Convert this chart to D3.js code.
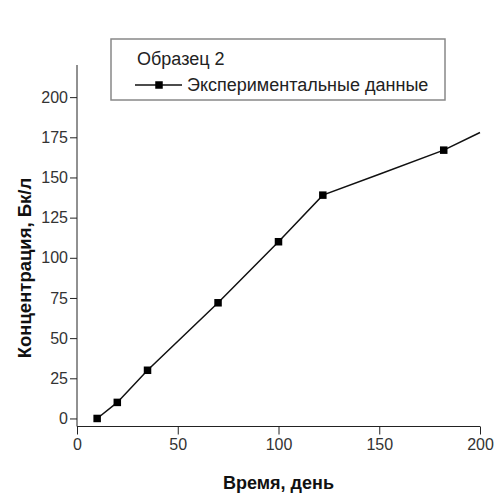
<!DOCTYPE html>
<html>
<head>
<meta charset="utf-8">
<script src="https://cdn.jsdelivr.net/npm/d3@7"></script>
<style>
  body { margin: 0; background: #fff; }
  svg { display: block; font-family: "Liberation Sans", Arial, sans-serif; }
</style>
</head>
<body>
<svg width="495" height="493"></svg>
<script>
// measured points (markers)
const days = [10, 20, 35, 70, 100, 122, 182];
const conc = [0, 10, 30, 72, 110, 139, 167];

// connecting curve, goes on past the last marker
const curveDays = [10, 20, 35, 70, 100, 122, 150, 182, 200];
const curveConc = [0, 10, 30, 72, 110, 139, 152, 167, 178];

const xTicks = [0, 50, 100, 150, 200];
const yTicks = [0, 25, 50, 75, 100, 125, 150, 175, 200];

const svg = d3.select('svg');

const x = d3.scaleLinear().domain([0, 200]).range([77, 480]);
const y = d3.scaleLinear().domain([-5, 220]).range([426.5, 65]);

// y axis: major + minor ticks
const yAxis = svg.append('g').attr('transform', 'translate(77,0)');
yAxis.call(d3.axisLeft(y).tickValues(d3.range(0, 220, 12.5)).tickSize(3.5).tickFormat(''))
    .call(g => g.select('.domain').remove());
yAxis.call(d3.axisLeft(y).tickValues(yTicks).tickSize(7).tickPadding(2));
yAxis.selectAll('text').style('font-size', '16px').attr('fill', '#333');
yAxis.selectAll('line').attr('stroke', '#222');
yAxis.select('.domain').attr('stroke', '#222').attr('d', `M0,${y(-5)}V${y(220)}`);

// x axis
const xAxis = svg.append('g').attr('transform', `translate(0,${y(-5)})`);
xAxis.call(d3.axisBottom(x).tickValues(d3.range(0, 201, 25)).tickSize(4).tickFormat(''))
    .call(g => g.select('.domain').remove());
xAxis.call(d3.axisBottom(x).tickValues(xTicks).tickSize(8).tickPadding(4));
xAxis.selectAll('text').style('font-size', '16px').attr('fill', '#333');
xAxis.selectAll('line').attr('stroke', '#222');
xAxis.select('.domain').attr('stroke', '#222').attr('d', `M${x(0)},0H${x(200)}`);

// axis titles
svg.append('text')
    .attr('x', (x(0) + x(200)) / 2).attr('y', 489)
    .attr('text-anchor', 'middle')
    .style('font-size', '18px').style('font-weight', 'bold').attr('fill', '#111')
    .text('Время, день');

svg.append('text')
    .attr('transform', 'translate(31,268) rotate(-90)')
    .attr('text-anchor', 'middle')
    .style('font-size', '18.5px').style('font-weight', 'bold').attr('fill', '#111')
    .text('Концентрация, Бк/л');

// curve
const line = d3.line().x(d => x(d[0])).y(d => y(d[1]));
svg.append('path')
    .datum(d3.zip(curveDays, curveConc))
    .attr('d', line)
    .attr('fill', 'none').attr('stroke', '#111').attr('stroke-width', 1.5);

// markers
const ms = 7.5;
svg.selectAll('rect.pt')
    .data(d3.zip(days, conc))
    .join('rect')
    .attr('class', 'pt')
    .attr('x', d => x(d[0]) - ms / 2).attr('y', d => y(d[1]) - ms / 2)
    .attr('width', ms).attr('height', ms)
    .attr('fill', '#000');

// legend
const lg = svg.append('g');
lg.append('rect')
    .attr('x', 111).attr('y', 39).attr('width', 334).attr('height', 61)
    .attr('fill', '#fff').attr('stroke', '#888').attr('stroke-width', 1.5);
lg.append('text').attr('x', 137).attr('y', 65)
    .style('font-size', '18px').attr('fill', '#222').text('Образец 2');
lg.append('line').attr('x1', 135).attr('x2', 182).attr('y1', 85).attr('y2', 85)
    .attr('stroke', '#111').attr('stroke-width', 1.5);
lg.append('rect').attr('x', 159 - ms / 2).attr('y', 85 - ms / 2)
    .attr('width', ms).attr('height', ms).attr('fill', '#000');
lg.append('text').attr('x', 187).attr('y', 91)
    .style('font-size', '18px').attr('fill', '#222').text('Экспериментальные данные');
</script>
</body>
</html>
